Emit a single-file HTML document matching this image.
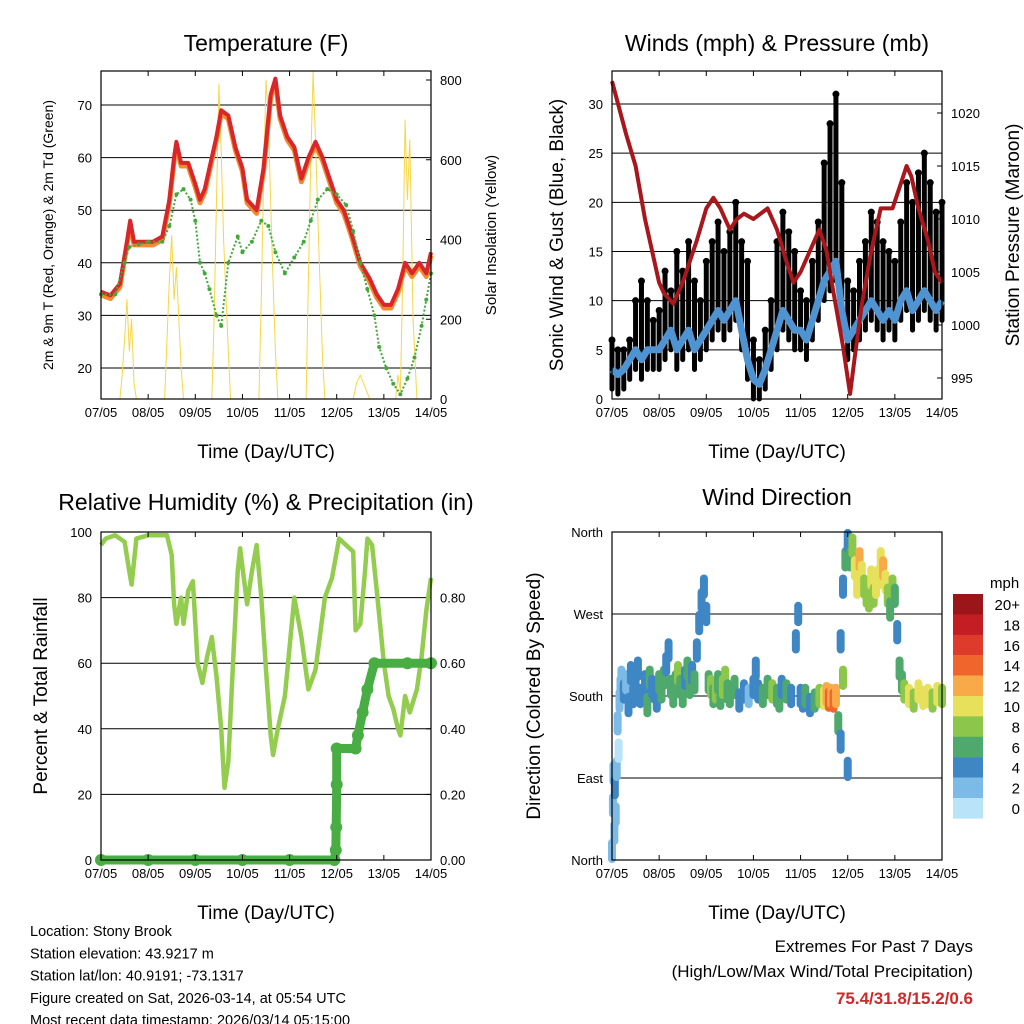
<!DOCTYPE html>
<html><head><meta charset="utf-8">
<style>
body{margin:0;background:#fff;}
svg{display:block;font-family:"Liberation Sans",sans-serif;}
</style></head>
<body>
<svg id="chart" width="1024" height="1024" viewBox="0 0 1024 1024" xmlns="http://www.w3.org/2000/svg">
<rect width="1024" height="1024" fill="#fff"/>
</svg>
<script>
// ---- Temperature data ----
const tempT = [0,0.2,0.4,0.55,0.62,0.7,0.9,1.1,1.3,1.45,1.55,1.6,1.7,1.85,2.0,2.1,2.2,2.3,2.45,2.55,2.7,2.85,3.0,3.1,3.2,3.3,3.45,3.6,3.7,3.8,3.95,4.1,4.25,4.4,4.55,4.7,4.85,5.0,5.15,5.3,5.5,5.7,5.85,6.0,6.15,6.3,6.45,6.6,6.75,6.9,7.0];
const tempV = [34.5,33.8,36,44,48,44,44,44,45,52,60,63,59,59,55,52,54,58,64,69,68,62,58,52,51,50,58,72,75,68,64,62,56,60,63,60,56,52,50,46,40,37,34,32,32,35,40,38,40,38,42];
const dewT = [0,0.3,0.5,0.6,0.8,1.0,1.3,1.45,1.6,1.75,1.9,2.0,2.1,2.2,2.3,2.45,2.55,2.7,2.9,3.0,3.2,3.4,3.55,3.7,3.9,4.1,4.3,4.45,4.6,4.8,5.0,5.2,5.35,5.5,5.65,5.8,5.9,6.05,6.2,6.35,6.5,6.65,6.8,6.9,7.0];
const dewV = [34,34,40,43,43.5,44,44,47,53,54,52,48,40,38,35,30,28,40,45,42,44,48,47,42,38,41,44,48,52,54,53,51,46,40,35,30,24,20,17,15,18,22,28,33,38];
const solT = [0,0.4,0.45,0.5,0.55,0.6,0.65,0.7,0.75,1.35,1.4,1.45,1.5,1.55,1.6,1.7,1.75,2.35,2.4,2.45,2.5,2.55,2.6,2.7,2.75,3.35,3.4,3.45,3.5,3.55,3.62,3.7,3.75,4.35,4.4,4.45,4.5,4.55,4.62,4.7,4.75,5.35,5.42,5.5,5.6,5.7,6.25,6.3,6.35,6.4,6.45,6.5,6.55,6.62,6.7,7];
const solV = [0,0,60,150,250,120,200,40,0,0,150,300,410,250,330,80,0,0,200,500,790,620,400,120,0,0,250,550,800,700,400,120,0,0,300,600,820,650,380,100,0,0,40,60,30,0,0,60,20,300,700,500,650,200,0,0];
// ---- Wind data (3-hourly) ----
const windV = [3,2.5,3,4,5,4,5,5, 5,6,7,5,6,7,5,6, 7,8,9,8,9,10,7,4, 2,1.5,3,5,7,9,8,7, 7,6,8,10,12,13,14,9, 6,7,8,9,10,9,8,9, 8,10,11,9,10,11,10,9, 10];
const gustV = [6,5,5,6,10,12,10,8, 9,13,11,15,13,16,12,10, 14,16,18,15,17,20,16,14, 6,4,7,10,16,19,17,15, 11,10,14,18,24,28,31,22, 12,11,14,16,19,18,16,15, 14,18,22,20,23,25,22,19, 20];
const presT = [0,0.3,0.5,0.7,0.9,1.0,1.1,1.3,1.5,1.8,2.0,2.15,2.3,2.5,2.65,2.8,3.0,3.3,3.5,3.7,3.85,4.0,4.2,4.4,4.55,4.7,4.9,5.0,5.05,5.15,5.3,5.5,5.7,5.95,6.1,6.25,6.35,6.5,6.7,6.85,7.0];
const presV = [1023,1018,1015,1010,1006,1004,1003,1002,1004,1008,1011,1012,1011,1009,1010,1010.5,1010,1011,1009,1006,1004,1005,1007,1009,1007,1003,998,995,993.5,997,1002,1007,1011,1011,1013,1015,1014,1011,1008,1005,1004];
// ---- RH / precip ----
const rhT = [0,0.1,0.3,0.5,0.6,0.65,0.75,1.0,1.2,1.4,1.5,1.55,1.6,1.7,1.75,1.85,1.95,2.05,2.15,2.25,2.35,2.45,2.55,2.62,2.7,2.8,2.9,2.95,3.1,3.2,3.3,3.4,3.5,3.6,3.65,3.75,3.9,4.1,4.25,4.4,4.55,4.75,4.9,5.05,5.2,5.35,5.4,5.5,5.6,5.65,5.75,5.85,6.0,6.1,6.2,6.3,6.35,6.45,6.55,6.7,6.8,6.9,7.0];
const rhV = [96,98,99,97,88,84,98,99,99,99,93,78,72,80,72,82,85,60,54,62,68,56,40,22,30,60,88,95,78,88,96,80,58,38,32,40,50,80,68,52,58,80,86,98,96,94,70,72,88,98,96,82,60,50,46,40,38,50,45,52,62,76,86];
const prT = [0,1,2,3,4,4.95,4.98,4.99,5.0,5.0,5.4,5.45,5.55,5.65,5.8,6.5,7.0];
const prV = [0,0,0,0,0,0,0.03,0.10,0.23,0.34,0.34,0.38,0.45,0.52,0.60,0.60,0.60];
// ---- Wind direction ----
const dirT = [0,0.02,0.03,0.05,0.06,0.08,0.1,0.12,0.14,0.16,0.18,0.2,0.25,0.3,0.35,0.4,0.45,0.5,0.55,0.6,0.7,0.75,0.8,0.85,0.9,0.95,1.0,1.05,1.1,1.15,1.2,1.25,1.3,1.35,1.4,1.45,1.5,1.55,1.6,1.65,1.7,1.75,1.8,1.85,1.9,1.95,2.0,2.05,2.1,2.15,2.2,2.25,2.3,2.35,2.4,2.45,2.5,2.6,2.7,2.8,2.9,3.0,3.05,3.1,3.2,3.3,3.4,3.5,3.55,3.6,3.7,3.8,3.9,3.95,4.0,4.05,4.1,4.2,4.3,4.4,4.5,4.55,4.6,4.65,4.7,4.75,4.8,4.85,4.85,4.9,4.9,4.95,5.0,5.0,5.05,5.1,5.15,5.2,5.25,5.3,5.35,5.4,5.45,5.5,5.55,5.6,5.65,5.7,5.75,5.8,5.85,5.9,5.95,6.0,6.05,6.1,6.15,6.2,6.3,6.4,6.5,6.6,6.7,6.8,6.9,7.0];
const dirD = [10,60,95,30,80,50,100,150,120,175,190,200,185,195,170,205,180,190,210,180,195,170,200,190,185,175,195,185,200,215,230,190,180,195,205,190,180,200,210,190,205,195,230,260,285,300,270,195,190,180,185,195,178,190,200,185,180,190,175,185,180,190,210,185,180,190,185,180,175,190,185,180,240,270,180,175,180,170,175,180,178,182,176,180,175,180,150,130,240,300,200,330,350,100,330,345,320,300,330,315,300,290,285,310,290,300,310,330,320,305,290,275,300,290,250,210,195,185,180,175,185,178,180,175,182,180];
const dirS = [1,1,2,1,3,1,1,1,0,1,1,2,3,2,3,3,3,4,3,4,4,5,5,3,4,3,5,6,5,4,4,6,5,6,7,6,5,4,6,5,4,6,4,4,3,4,3,6,7,6,7,5,6,7,8,6,5,6,4,3,2,3,3,4,5,6,7,5,6,4,5,4,3,4,3,4,5,4,6,8,10,12,13,11,13,12,5,3,4,4,7,5,4,3,6,8,10,9,11,9,8,7,8,9,7,10,9,10,11,9,7,6,8,6,4,5,6,8,9,8,10,9,10,8,9,7];
const dayTicks = ["07/05","08/05","09/05","10/05","11/05","12/05","13/05","14/05"];
const spdColors = ["#b9e3f8","#7cbbe8","#3f86c4","#4fa86c","#8cc64b","#e6e05a","#f9aa48","#f0652b","#de3b2c","#c41d24","#9b1519"];
const spdLabels = ["0","2","4","6","8","10","12","14","16","18","20+"];

const NS="http://www.w3.org/2000/svg";
const svg=document.getElementById('chart');
function mk(tag,attrs,parent){const e=document.createElementNS(NS,tag);for(const k in attrs)e.setAttribute(k,attrs[k]);(parent||svg).appendChild(e);return e;}
function txt(s,x,y,size,anchor,parent,extra){const e=mk('text',Object.assign({x:x,y:y,'font-size':size,'text-anchor':anchor||'middle',fill:'#000'},extra||{}),parent);e.textContent=s;return e;}
function lin(d0,d1,r0,r1){return v=>r0+(v-d0)/(d1-d0)*(r1-r0);}

function panel(name,x0,x1,y0,y1){
  const g=mk('g',{});
  
  
  const xs=lin(0,7,x0,x1);
  return {g,xs,x0,x1,y0,y1};
}
function frame(p,title,ty){
  const f=mk('rect',{x:p.x0,y:p.y0,width:p.x1-p.x0,height:p.y1-p.y0,fill:'none',stroke:'#000','stroke-width':1.2},p.g);
  
  const t=txt(title,(p.x0+p.x1)/2,ty,23,'middle',p.g);
  
  const xt=mk('g',{},p.g);
  
  dayTicks.forEach((d,i)=>{const x=p.xs(i);
    mk('line',{x1:x,x2:x,y1:p.y1,y2:p.y1-5,stroke:'#000'},xt);
    mk('line',{x1:x,x2:x,y1:p.y0,y2:p.y0+5,stroke:'#000'},xt);
    const l=txt(d,x,p.y1+18,13,'middle',xt);
    });
  const xl=txt('Time (Day/UTC)',(p.x0+p.x1)/2,p.y1+59,19,'middle',p.g);
  
}
function yTicks(p,vals,labels,ys,side,grid){
  const g=mk('g',{},p.g);
  
  
  vals.forEach((v,i)=>{const y=ys(v);
    if(grid) mk('line',{x1:p.x0,x2:p.x1,y1:y,y2:y,stroke:'#000','stroke-width':1},g);
    if(side==='left'){
      const l=txt(labels[i],p.x0-9,y+5,13,'end',g);}
    else{mk('line',{x1:p.x1,x2:p.x1-5,y1:y,y2:y,stroke:'#000'},g);
      const l=txt(labels[i],p.x1+9,y+5,13,'start',g);}
  });
}
function vlabel(p,s,x,y,size,name){const t=txt(s,x,y,size,'middle',p.g,{transform:`rotate(-90 ${x} ${y})`});
  }
function path(p,ts,vs,ys,attrs,name){
  let d='';ts.forEach((t,i)=>{d+=(i?'L':'M')+p.xs(t).toFixed(1)+','+ys(vs[i]).toFixed(1);});
  const e=mk('path',Object.assign({d:d,fill:'none','stroke-linejoin':'round'},attrs),p.g);
  return e;}

// ===== Panel 1: Temperature =====
{
  const p=panel('temperature-panel',101,431,71,399);
  const yl=lin(20,70,368,105), yr=lin(0,800,399,80);
  yTicks(p,[20,30,40,50,60,70],['20','30','40','50','60','70'],yl,'left',true);
  yTicks(p,[0,200,400,600,800],['0','200','400','600','800'],yr,'right',false);
  path(p,solT,solV,yr,{stroke:'#f5d648','stroke-width':1},'solar-insolation-line');
  path(p,tempT,tempV.map(v=>v-0.6),yl,{stroke:'#f28a2e','stroke-width':5},'temp-9m-line');
  path(p,tempT,tempV,yl,{stroke:'#d9262a','stroke-width':4},'temp-2m-line');
  path(p,dewT,dewV,yl,{stroke:'#43a83a','stroke-width':2,'stroke-dasharray':'2 2'},'dewpoint-line');
  dewT.forEach((t,i)=>{const c=mk('circle',{cx:p.xs(t),cy:yl(dewV[i]),r:2,fill:'#43a83a'},p.g);
    });
  frame(p,'Temperature (F)',51);
  vlabel(p,'2m & 9m T (Red, Orange) & 2m Td (Green)',53,235,14,'y-axis-title-left');
  vlabel(p,'Solar Insolation (Yellow)',496,235,15,'y-axis-title-right');
}
// ===== Panel 2: Winds =====
{
  const p=panel('winds-panel',612,942,71,399);
  const yl=lin(0,30,399,104), yr=lin(995,1020,378,113);
  yTicks(p,[0,5,10,15,20,25,30],['0','5','10','15','20','25','30'],yl,'left',true);
  yTicks(p,[995,1000,1005,1010,1015,1020],['995','1000','1005','1010','1015','1020'],yr,'right',false);
  const wt=windV.map((v,i)=>i/8);
  wt.forEach((t,i)=>{const x=p.xs(t);
    const s=mk('line',{x1:x,x2:x,y1:yl(Math.max(0,windV[i]-2)),y2:yl(gustV[i]),stroke:'#000','stroke-width':5,'stroke-linecap':'round'},p.g);
    
    const c=mk('circle',{cx:x,cy:yl(gustV[i]),r:3.5,fill:'#000'},p.g);
    });
  path(p,wt,windV,yl,{stroke:'#4f94d0','stroke-width':7},'sonic-wind-line');
  path(p,presT,presV,yr,{stroke:'#a8171c','stroke-width':4},'pressure-line');
  frame(p,'Winds (mph) & Pressure (mb)',51);
  vlabel(p,'Sonic Wind & Gust (Blue, Black)',563,235,19,'y-axis-title-left');
  vlabel(p,'Station Pressure (Maroon)',1019,235,19,'y-axis-title-right');
}
// ===== Panel 3: RH =====
{
  const p=panel('humidity-panel',101,431,532,860);
  const yl=lin(0,100,860,532), yr=lin(0,1,860,532);
  yTicks(p,[0,20,40,60,80,100],['0','20','40','60','80','100'],yl,'left',true);
  yTicks(p,[0,0.2,0.4,0.6,0.8],['0.00','0.20','0.40','0.60','0.80'],yr,'right',false);
  path(p,rhT,rhV,yl,{stroke:'#93cc4e','stroke-width':4.5},'rh-line');
  path(p,prT,prV,yr,{stroke:'#48ad42','stroke-width':9,'stroke-linecap':'round'},'precip-line');
  prT.forEach((t,i)=>{const c=mk('circle',{cx:p.xs(t),cy:yr(prV[i]),r:6,fill:'#48ad42'},p.g);
    });
  frame(p,'Relative Humidity (%) & Precipitation (in)',510);
  vlabel(p,'Percent & Total Rainfall',47,696,19,'y-axis-title-left');
}
// ===== Panel 4: Wind direction =====
{
  const p=panel('wind-direction-panel',612,942,532,860);
  const yl=lin(0,360,860,532);
  yTicks(p,[0,90,180,270,360],['North','East','South','West','North'],yl,'left',true);
  dirT.forEach((t,i)=>{const ci=Math.min(10,Math.round(dirS[i]/2));
    const x=p.xs(t);
    const c=mk('line',{x1:x,x2:x,y1:yl(dirD[i]-9),y2:yl(dirD[i]+9),stroke:spdColors[ci],'stroke-width':8,'stroke-linecap':'round'},p.g);
    });
  frame(p,'Wind Direction',505);
  vlabel(p,'Direction (Colored By Speed)',540,696,19,'y-axis-title-left');
  const lg=mk('g',{});
  
  txt('mph',990,588,15,'start',lg);
  for(let k=10;k>=0;k--){const y=594+(10-k)*20.4;
    const r=mk('rect',{x:953,y:y,width:30,height:20.6,fill:spdColors[k]},lg);
    
    const l=txt(spdLabels[k],1020,y+16,15,'end',lg);
    }
}
// ===== Footer text =====
{
  const g=mk('g',{});
  
  ['Location: Stony Brook','Station elevation: 43.9217 m','Station lat/lon: 40.9191; -73.1317','Figure created on Sat, 2026-03-14, at 05:54 UTC','Most recent data timestamp: 2026/03/14 05:15:00']
   .forEach((s,i)=>txt(s,30,936+i*22.3,14.5,'start',g));
  const g2=mk('g',{});
  
  txt('Extremes For Past 7 Days',973,952,17,'end',g2);
  txt('(High/Low/Max Wind/Total Precipitation)',973,977,17,'end',g2);
  txt('75.4/31.8/15.2/0.6',973,1004,17,'end',g2,{fill:'#cc2a2a','font-weight':'bold'});
}
</script>
</body></html>
